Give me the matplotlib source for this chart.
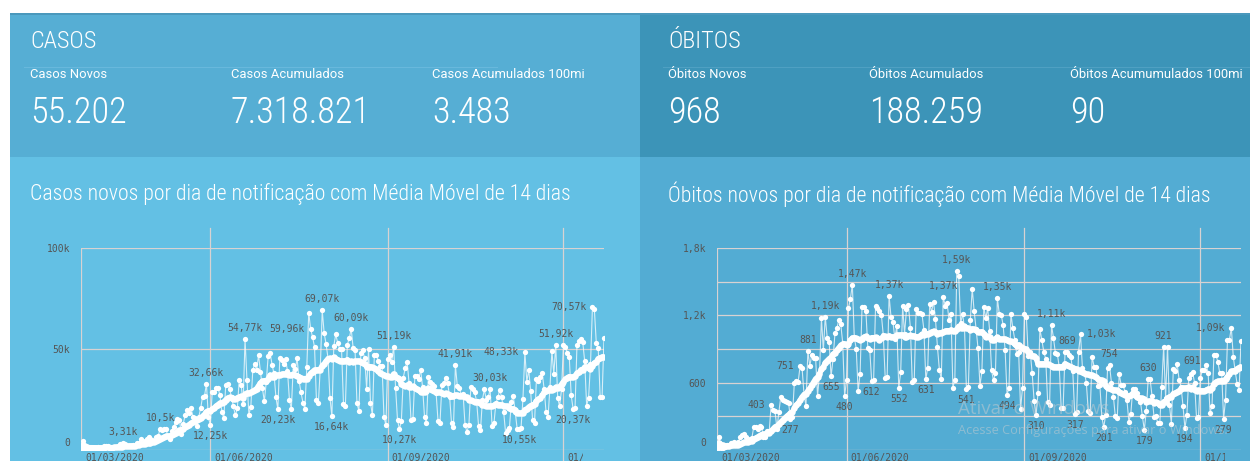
import matplotlib
matplotlib.use("Agg")
import matplotlib.pyplot as plt
import pandas as pd
from matplotlib.patches import Rectangle
from matplotlib.transforms import Bbox, ScaledTranslation

# casos novos por dia (milhares), 26/03/2020 a 22/12/2020, semanas de quinta a quarta
casos_novos = [
    0.3, 4.5, 0.5, 0.4, 0.3, 1.1, 1.1,
    1.2, 1.0, 1.3, 0.8, 1.0, 1.9, 2.1,
    1.9, 1.5, 1.1, 1.4, 1.3, 1.8, 3.1,
    2.1, 3.31, 3.0, 2.0, 2.1, 1.9, 2.5,
    2.7, 3.7, 3.5, 5.5, 3.4, 4.6, 5.4,
    6.3, 5.3, 5.0, 4.6, 6.6, 6.9, 10.5,
    9.9, 10.2, 10.6, 6.8, 5.6, 9.3, 11.4,
    13.9, 15.3, 14.9, 7.9, 13.1, 17.4, 20.0,
    18.5, 20.8, 16.5, 15.8, 11.7, 16.3, 20.6,
    26.4, 26.9, 32.66, 16.4, 12.25, 28.9, 28.6,
    30.9, 30.8, 27.1, 18.9, 15.7, 32.1, 32.9,
    30.4, 26.0, 21.7, 17.1, 20.6, 34.9, 32.2,
    22.8, 54.77, 34.7, 17.5, 21.4, 39.4, 42.7,
    39.5, 46.9, 38.7, 30.5, 24.1, 33.8, 46.7,
    48.1, 42.2, 37.9, 26.1, 20.23, 45.3, 44.6,
    42.6, 45.0, 39.0, 24.8, 20.3, 41.9, 39.9,
    45.4, 34.2, 28.5, 23.5, 20.3, 41.0, 67.9,
    59.96, 55.9, 51.1, 24.6, 23.3, 40.8, 69.07,
    57.8, 52.4, 45.4, 25.8, 16.64, 51.6, 57.2,
    53.1, 50.2, 50.0, 23.0, 22.0, 52.2, 55.2,
    60.09, 50.6, 49.3, 23.1, 19.4, 47.8, 49.3,
    45.3, 30.4, 50.0, 23.4, 17.1, 47.1, 47.2,
    44.2, 41.4, 41.4, 16.2, 12.4, 45.0, 46.9,
    43.8, 51.19, 30.8, 14.9, 10.27, 14.3, 35.8,
    40.6, 43.7, 33.0, 14.8, 15.2, 36.6, 36.8,
    35.0, 39.8, 31.0, 16.4, 13.4, 36.0, 33.5,
    32.8, 31.9, 28.4, 14.3, 13.3, 32.1, 33.4,
    35.6, 33.0, 26.3, 13.2, 11.5, 41.91, 31.6,
    30.7, 27.4, 27.6, 12.3, 9.0, 12.5, 31.0,
    30.0, 28.5, 24.1, 12.0, 9.7, 24.9, 30.0,
    24.8, 26.1, 30.03, 12.0, 13.5, 23.2, 26.0,
    29.8, 26.1, 18.9, 8.6, 10.1, 11.0, 23.9,
    26.9, 18.9, 10.6, 10.55, 10.9, 25.3, 48.33,
    33.9, 39.6, 29.0, 14.9, 13.4, 35.3, 34.0,
    35.9, 38.2, 30.0, 18.6, 16.2, 31.1, 49.0,
    37.6, 51.92, 25.7, 21.8, 30.0, 52.0, 51.0,
    48.0, 46.0, 27.0, 20.37, 21.0, 52.0, 54.0,
    55.0, 53.3, 43.9, 22.0, 25.7, 42.4, 70.57,
    69.8, 53.0, 50.5, 26.4, 26.0, 55.2,
]

# óbitos novos por dia, mesmo período
obitos_novos = [
    10, 115, 22, 22, 23, 42, 40,
    58, 60, 73, 54, 67, 114, 133,
    141, 115, 68, 99, 105, 204, 204,
    188, 217, 206, 115, 113, 166, 165,
    403, 357, 346, 189, 338, 474, 449,
    435, 428, 421, 277, 296, 600, 615,
    610, 751, 730, 496, 396, 881, 749,
    844, 824, 816, 485, 674, 1179, 888,
    1188, 1001, 965, 655, 807, 1039, 1086,
    1156, 1124, 956, 480, 623, 1262, 1349,
    1473, 1005, 904, 525, 679, 1272, 1274,
    1239, 909, 892, 612, 627, 1282, 1269,
    1238, 1206, 1022, 641, 654, 1374, 1185,
    1141, 990, 1109, 552, 692, 1280, 1038,
    1252, 1290, 1091, 602, 620, 1254, 1223,
    1220, 1214, 1071, 631, 733, 1300, 1233,
    1322, 1163, 920, 716, 632, 1367, 1284,
    1311, 1156, 1211, 555, 627, 1593, 1554,
    1129, 1212, 1088, 541, 561, 1154, 1437,
    1237, 1079, 905, 572, 703, 1274, 1175,
    1262, 1060, 709, 620, 684, 1352, 1212,
    1204, 1111, 892, 494, 550, 1215, 1085,
    984, 855, 874, 366, 553, 1215, 1184,
    834, 874, 682, 441, 310, 504, 1075,
    983, 874, 814, 431, 401, 1113, 1000,
    865, 858, 740, 378, 370, 875, 869,
    850, 830, 700, 317, 335, 877, 1030,
    729, 690, 601, 350, 330, 833, 744,
    740, 571, 580, 298, 201, 312, 730,
    754, 600, 476, 300, 286, 678, 580,
    580, 520, 446, 253, 320, 540, 540,
    510, 460, 431, 300, 179, 350, 630,
    630, 480, 297, 300, 240, 240, 565,
    921, 464, 921, 400, 232, 723, 700,
    767, 625, 565, 393, 194, 312, 643,
    678, 691, 597, 286, 290, 640, 714,
    714, 758, 687, 330, 393, 848, 848,
    788, 687, 687, 279, 446, 981, 981,
    1090, 833, 700, 589, 535, 968,
]

# rótulos mostrados no gráfico
rotulos_casos = [3.31, 10.5, 32.66, 12.25, 54.77, 59.96, 20.23, 69.07, 60.09, 16.64,
                 51.19, 10.27, 41.91, 30.03, 48.33, 10.55, 51.92, 70.57, 20.37]
lados_casos = ['c', 'c', 'c', 'b', 'c', 'e', 'b', 'c', 'c', 'b',
               'c', 'b', 'c', 'c', 'e', 'b', 'c', 'e', 'b']
rotulos_obitos = [403, 751, 881, 1188, 1473, 1374, 1367, 1593, 1352, 1113, 869, 1030,
                  754, 630, 921, 691, 1090, 277, 655, 480, 612, 552, 631, 541, 494,
                  310, 317, 201, 179, 194, 279]
lados_obitos = ['e', 'e', 'c', 'c', 'c', 'c', 'c', 'c', 'c', 'c', 'c', 'd',
                'c', 'c', 'c', 'c', 'e', 'b', 'b', 'b', 'b', 'b', 'b', 'b', 'b',
                'b', 'b', 'b', 'b', 'b', 'b']

datas_eixo = ['01/03/2020', '01/06/2020', '01/09/2020', '01/12/2020']
pos_datas = [0, 67, 159, 250]

ticks_casos = [0, 50, 100]
nomes_ticks_casos = ['0', '50k', '100k']
ticks_obitos = [0, 600, 1200, 1800]
nomes_ticks_obitos = ['0', '600', '1,2k', '1,8k']
grade_obitos = [300, 600, 900, 1200, 1500, 1800]

indicadores_casos = [('Casos Novos', '55.202'), ('Casos Acumulados', '7.318.821'),
                     ('Casos Acumulados 100mi', '3.483')]
indicadores_obitos = [('Óbitos Novos', '968'), ('Óbitos Acumulados', '188.259'),
                      ('Óbitos Acumumulados 100mi', '90')]

W, H = 1250, 461
fig = plt.figure(figsize=(W / 100, H / 100), dpi=100)
fig.patch.set_facecolor('white')


def fx(px):
    return px / W


def fy(py):
    return 1 - py / H


def retangulo(x0, y0, x1, y1, cor):
    fig.patches.append(Rectangle((fx(x0), fy(y1)), (x1 - x0) / W, (y1 - y0) / H,
                                 transform=fig.transFigure, facecolor=cor,
                                 edgecolor='none', zorder=-5))


fina = dict(family=['Roboto Condensed', 'Liberation Sans Narrow', 'DejaVu Sans'],
            stretch='condensed', weight='light')
mono = 'DejaVu Sans Mono'
cinza = '#555555'
grade = '#D8D2D2'

# fundos
retangulo(10, 13, 640, 157, '#56AED4')
retangulo(10, 157, 640, 461, '#63C0E4')
retangulo(640, 13, 1250, 157, '#3C94B8')
retangulo(640, 157, 1250, 461, '#53ACD3')
retangulo(10, 13, 1250, 15, '#4A98BC')
retangulo(24, 67, 498, 68, '#68B8DC')
retangulo(663, 67, 1250, 68, '#4FA0C2')

# cabeçalhos
for x0, titulo, indicadores, titulo_graf in [
        (30, 'CASOS', indicadores_casos,
         'Casos novos por dia de notificação com Média Móvel de 14 dias'),
        (668, 'ÓBITOS', indicadores_obitos,
         'Óbitos novos por dia de notificação com Média Móvel de 14 dias')]:
    fig.text(fx(x0), fy(41), titulo, color='white', fontsize=17.5, va='center', **fina)
    for k, (nome, valor) in enumerate(indicadores):
        xk = x0 + k * 201
        fig.text(fx(xk), fy(75), nome, color='white', fontsize=9.4, va='center',
                 family='Roboto')
        fig.text(fx(xk), fy(113), valor, color='white', fontsize=26, va='center', **fina)
    fig.text(fx(x0), fy(194), titulo_graf, color='white', fontsize=15.7, va='center', **fina)


def grafico(x0, x1, valores, ymax, ticks, nomes, linhas, rotulos, lados, fmt, corte):
    ax = fig.add_axes([fx(x0), fy(450), (x1 - x0) / W, (450 - 248) / H])
    ax.set_facecolor('none')
    for s in ax.spines.values():
        s.set_visible(False)
    n = len(valores)
    x = list(range(n))
    media = pd.Series(valores).rolling(14, min_periods=1).mean()
    ax.set_xlim(0, n - 1)
    ax.set_ylim(0, ymax)

    for v in linhas:
        ax.axhline(v, color=grade, lw=0.9, zorder=1)
    ax.axhline(0, color=grade, lw=0.9, zorder=1)
    ax.axvline(0, color=grade, lw=0.9, zorder=1)
    for p in pos_datas[1:]:
        ax.axvline(p, ymin=-0.06, ymax=1.1, color=grade, lw=0.9, zorder=1, clip_on=False)

    ax.plot(x, valores, color='white', lw=0.8, alpha=0.75, zorder=3)
    ax.plot(x, valores, 'o', color='white', ms=3.8, mec='none', zorder=4)
    ax.plot(x, media, color='white', lw=3.8, zorder=5, solid_capstyle='round')
    ax.plot(x, media, 'o', color='white', ms=4.6, mec='none', zorder=5)

    ax.set_xticks([])
    ax.set_yticks(ticks)
    ax.set_yticklabels(nomes, family=mono, fontsize=7, color=cinza)
    ax.tick_params(axis='y', length=0, pad=8)
    rot0 = ax.get_yticklabels()[0]
    rot0.set_transform(rot0.get_transform() + ScaledTranslation(0, 6 / 72, fig.dpi_scale_trans))

    for p, d in zip(pos_datas, datas_eixo):
        t = ax.annotate(d, xy=(p, 0), xycoords=('data', 'axes fraction'),
                        xytext=(4, -3), textcoords='offset pixels', ha='left', va='top',
                        family=mono, fontsize=7, color=cinza, annotation_clip=False)
        t.set_clip_box(Bbox.from_extents(0, 0, corte, H))
        t.set_clip_on(True)

    desloc = {'c': ((0, 11), 'center', 'center'), 'b': ((0, -11), 'center', 'center'),
              'e': ((-6, 0), 'right', 'center'), 'd': ((6, 0), 'left', 'center')}
    for v, lado in zip(rotulos, lados):
        i = valores.index(v)
        off, ha, va = desloc[lado]
        ax.annotate(fmt(v), xy=(i, v), xytext=off, textcoords='offset pixels',
                    ha=ha, va=va, family=mono, fontsize=7, color=cinza, zorder=6)
    return ax


def fmt_k(v):
    return f'{v:.2f}'.rstrip('0').rstrip('.').replace('.', ',') + 'k'


def fmt_obitos(v):
    if v >= 1000:
        return fmt_k(v / 1000)
    return str(v)


grafico(81, 604, casos_novos, 100, ticks_casos, nomes_ticks_casos, [50, 100],
        rotulos_casos, lados_casos, fmt_k, 583)
grafico(717, 1241, obitos_novos, 1800, ticks_obitos, nomes_ticks_obitos, grade_obitos,
        rotulos_obitos, lados_obitos, fmt_obitos, 1225)

# marca d'água da tela original
fig.text(fx(958), fy(409), 'Ativar o Windows', color='#C9CDD0', alpha=0.5, fontsize=13.5,
         va='center', family='Open Sans')
fig.text(fx(958), fy(430), 'Acesse Configurações para ativar o Windows.', color='#C9CDD0',
         alpha=0.5, fontsize=9.2, va='center', family='Open Sans')

fig.savefig('out.png', dpi=100)
